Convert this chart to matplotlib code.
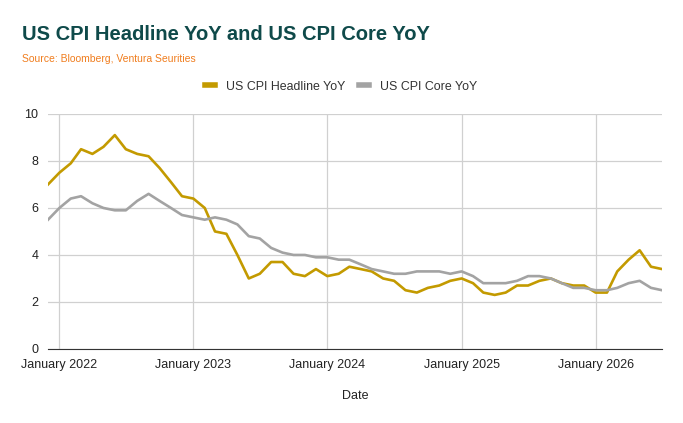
import numpy as np
import pandas as pd
import matplotlib
matplotlib.use("Agg")
import matplotlib.pyplot as plt
import matplotlib.dates as mdates

plt.rcParams['font.family'] = ['Liberation Sans', 'DejaVu Sans']

dates = pd.date_range("2021-12-01", "2026-07-01", freq="MS")

headline = [7.0, 7.5, 7.9, 8.5, 8.3, 8.6, 9.1, 8.5, 8.3, 8.2, 7.7, 7.1, 6.5,
            6.4, 6.0, 5.0, 4.9, 4.0, 3.0, 3.2, 3.7, 3.7, 3.2, 3.1, 3.4,
            3.1, 3.2, 3.5, 3.4, 3.3, 3.0, 2.9, 2.5, 2.4, 2.6, 2.7, 2.9,
            3.0, 2.8, 2.4, 2.3, 2.4, 2.7, 2.7, 2.9, 3.0, 2.8, 2.7, 2.7,
            2.4, 2.4, 3.3, 3.8, 4.2, 3.5, 3.4]

core = [5.5, 6.0, 6.4, 6.5, 6.2, 6.0, 5.9, 5.9, 6.3, 6.6, 6.3, 6.0, 5.7,
        5.6, 5.5, 5.6, 5.5, 5.3, 4.8, 4.7, 4.3, 4.1, 4.0, 4.0, 3.9,
        3.9, 3.8, 3.8, 3.6, 3.4, 3.3, 3.2, 3.2, 3.3, 3.3, 3.3, 3.2,
        3.3, 3.1, 2.8, 2.8, 2.8, 2.9, 3.1, 3.1, 3.0, 2.8, 2.6, 2.6,
        2.5, 2.5, 2.6, 2.8, 2.9, 2.6, 2.5]

gold = '#C39A00'
grey = '#A3A3A3'

fig = plt.figure(figsize=(6.83, 4.23), dpi=100)
ax = fig.add_axes([0.0703, 0.175, 0.899, 0.5556])

ax.plot(dates, headline, color=gold, linewidth=1.9, label='US CPI Headline YoY')
ax.plot(dates, core, color=grey, linewidth=1.9, label='US CPI Core YoY')

ax.set_xlim(dates[0], dates[-1])
ax.set_ylim(0, 10)
ax.set_yticks(range(0, 11, 2))
ax.xaxis.set_major_locator(mdates.MonthLocator(bymonth=1))
ax.xaxis.set_major_formatter(mdates.DateFormatter('%B %Y'))

ax.grid(True, color='#D0D0D0', linewidth=0.9)
ax.set_axisbelow(True)
for s in ['top', 'right', 'left']:
    ax.spines[s].set_visible(False)
ax.spines['bottom'].set_color('#333333')
ax.tick_params(length=0, labelsize=9, colors='#222222')
ax.tick_params(axis='x', pad=7)
ax.tick_params(axis='y', pad=7)
ax.set_xlabel('Date', fontsize=9, color='#222222', labelpad=14)

fig.text(0.032, 0.905, 'US CPI Headline YoY and US CPI Core YoY',
         fontsize=14.5, fontweight='bold', color='#0F4A4A')
fig.text(0.032, 0.853, 'Source: Bloomberg, Ventura Seurities',
         fontsize=7.5, color='#F07D1E')

fig.legend(loc='center', bbox_to_anchor=(0.5, 0.795), ncol=2, frameon=False,
           fontsize=8.9, handlelength=0.8, handletextpad=0.9, columnspacing=1.1,
           labelcolor='#333333')
leg = fig.legends[0]
for h in leg.get_lines():
    h.set_linewidth(4)

fig.savefig('out.png', dpi=100)
